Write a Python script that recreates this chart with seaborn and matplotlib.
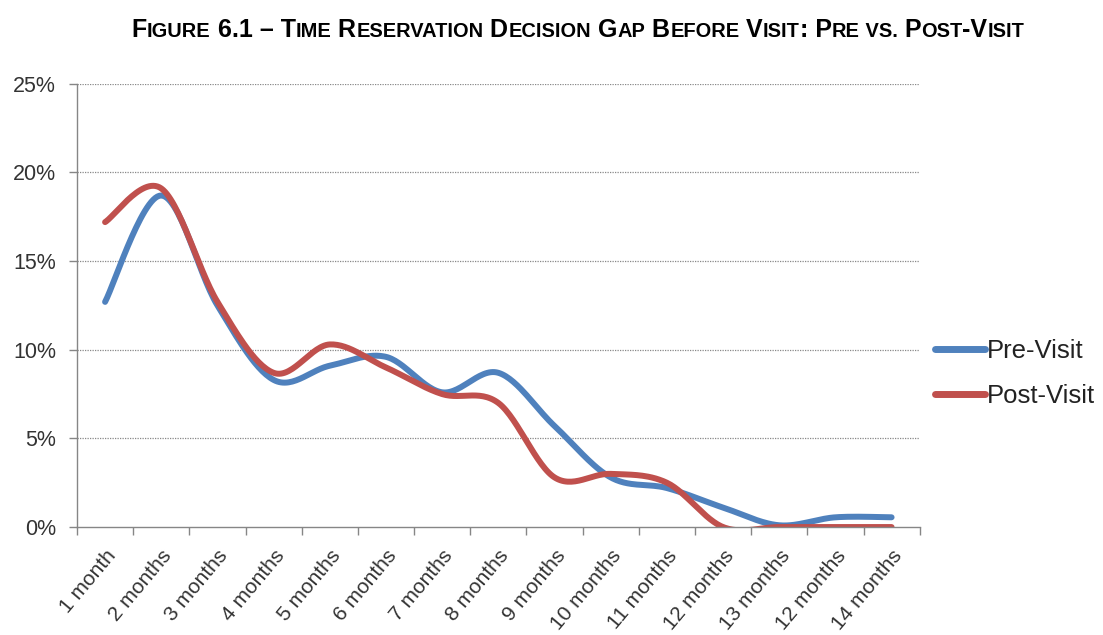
import numpy as np
import pandas as pd
import matplotlib
matplotlib.use("Agg")
import matplotlib.pyplot as plt
import seaborn as sns
from matplotlib.ticker import FuncFormatter, FixedLocator

# --- data -------------------------------------------------------------------
months = ["1 month", "2 months", "3 months", "4 months", "5 months",
          "6 months", "7 months", "8 months", "9 months", "10 months",
          "11 months", "12 months", "13 months", "12 months", "14 months"]
pre_visit = [12.7, 18.7, 12.5, 8.3, 9.1, 9.6, 7.6, 8.7, 5.7, 2.8,
             2.2, 1.1, 0.1, 0.55, 0.55]
post_visit = [17.2, 19.1, 12.7, 8.7, 10.3, 9.0, 7.5, 7.0, 2.8, 3.0,
              2.5, 0.0, 0.0, 0.0, 0.0]
series_names = ["Pre-Visit", "Post-Visit"]
series_colors = ["#4F81BD", "#C0504D"]
y_ticks = [0, 5, 10, 15, 20, 25]


def smooth_curve(values, steps=30):
    """Catmull-Rom style cubic Bezier through every point (spreadsheet 'smoothed line')."""
    y = np.asarray(values, dtype=float)
    n = len(y)
    x = np.arange(n, dtype=float)
    xs, ys = [], []
    t = np.linspace(0, 1, steps, endpoint=False)
    for i in range(n - 1):
        p0 = np.array([x[max(i - 1, 0)], y[max(i - 1, 0)]])
        p1 = np.array([x[i], y[i]])
        p2 = np.array([x[i + 1], y[i + 1]])
        p3 = np.array([x[min(i + 2, n - 1)], y[min(i + 2, n - 1)]])
        c1 = p1 + (p2 - p0) / 6.0
        c2 = p2 - (p3 - p1) / 6.0
        b = ((1 - t) ** 3)[:, None] * p1 + (3 * (1 - t) ** 2 * t)[:, None] * c1 \
            + (3 * (1 - t) * t ** 2)[:, None] * c2 + (t ** 3)[:, None] * p2
        xs.append(b[:, 0])
        ys.append(b[:, 1])
    xs.append([x[-1]])
    ys.append([y[-1]])
    return np.concatenate(xs), np.concatenate(ys)


frames = []
for name, vals in zip(series_names, [pre_visit, post_visit]):
    cx, cy = smooth_curve(vals)
    frames.append(pd.DataFrame({"pos": cx, "share": cy, "series": name}))
curves = pd.concat(frames, ignore_index=True)

# --- figure -------------------------------------------------------------------
sns.set_theme(style="white")
plt.rcParams["font.family"] = ["Liberation Sans", "DejaVu Sans"]

fig = plt.figure(figsize=(11.03, 6.35), dpi=100)
ax = fig.add_axes([0.0698, 0.170, 0.764, 0.698])

sns.lineplot(data=curves, x="pos", y="share", hue="series",
             hue_order=series_names, palette=series_colors,
             linewidth=4.3, sort=False, estimator=None, ax=ax, legend=True)
for line in ax.get_lines():
    line.set_solid_capstyle("round")
    line.set_solid_joinstyle("round")

ax.set_xlim(-0.5, len(months) - 0.5)
ax.set_ylim(0, 25)
ax.set_xlabel("")
ax.set_ylabel("")

# y axis
ax.yaxis.set_major_locator(FixedLocator(y_ticks))
ax.yaxis.set_major_formatter(FuncFormatter(lambda v, _: f"{v:.0f}%"))
ax.tick_params(axis="y", which="major", direction="out", length=6, width=1,
               color="#868686", labelsize=15.5, labelcolor="#333333", pad=9, left=True)
for yv in y_ticks[1:]:
    ax.axhline(yv, color="#888888", linewidth=0.9, linestyle=(0, (1, 1)), zorder=0)

# x axis: labels at category centres, tick marks at boundaries
ax.set_xticks(range(len(months)))
ax.set_xticklabels(months, rotation=50, ha="right", va="top",
                   rotation_mode="anchor", fontsize=15, color="#333333")
ax.set_xticks(np.arange(-0.5, len(months), 1.0), minor=True)
ax.tick_params(axis="x", which="major", length=0, pad=14)
ax.tick_params(axis="x", which="minor", direction="out", length=6, width=1,
               color="#868686", bottom=True)

for side in ["top", "right"]:
    ax.spines[side].set_visible(False)
for side in ["left", "bottom"]:
    ax.spines[side].set_color("#868686")
    ax.spines[side].set_linewidth(1.0)

# legend outside on the right
handles, labels = ax.get_legend_handles_labels()
ax.legend_.remove()
for h in handles:
    h.set_linewidth(5)
fig.legend(handles, labels, loc="center left", bbox_to_anchor=(0.8477, 0.412),
           frameon=False, fontsize=18.5, handlelength=1.95, handletextpad=0.08,
           labelspacing=0.8, borderpad=0, borderaxespad=0, labelcolor="#222222")

# title in small capitals, built piece by piece
title_parts = [("F", True), ("IGURE", False), (" 6.1 \u2013 T", True), ("IME", False),
               (" R", True), ("ESERVATION", False), (" D", True), ("ECISION", False),
               (" G", True), ("AP", False), (" B", True), ("EFORE", False),
               (" V", True), ("ISIT", False), (": P", True), ("RE", False),
               (" VS.", False), (" P", True), ("OST", False), ("-V", True), ("ISIT", False)]
big, small = 18.0, 14.4
renderer = fig.canvas.get_renderer()
texts = []
for s, is_big in title_parts:
    t = fig.text(0, 0.942, s, fontsize=big if is_big else small, fontweight="bold",
                 ha="left", va="baseline", color="#000000")
    texts.append(t)
widths = [t.get_window_extent(renderer).width for t in texts]
total = sum(widths)
fig_w_px = fig.get_figwidth() * fig.dpi
x0 = 0.524 * fig_w_px - total / 2
for t, w in zip(texts, widths):
    t.set_x(x0 / fig_w_px)
    x0 += w

fig.savefig("out.png", dpi=100)
